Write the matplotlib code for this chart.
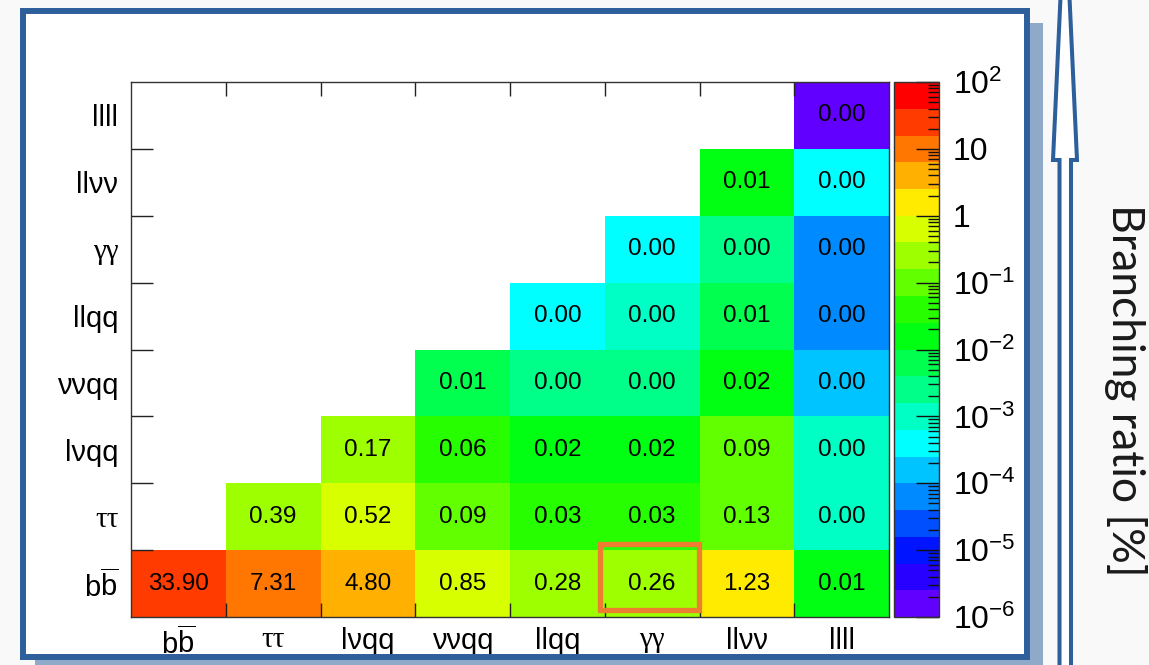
import numpy as np
import matplotlib
matplotlib.use('Agg')
import matplotlib.pyplot as plt
from matplotlib.colors import ListedColormap, LogNorm, hsv_to_rgb
from matplotlib.patches import Rectangle, Polygon
from matplotlib.ticker import FixedLocator, NullFormatter, FuncFormatter

plt.rcParams['font.family'] = ['Liberation Sans', 'DejaVu Sans']
plt.rcParams['mathtext.fontset'] = 'custom'
plt.rcParams['mathtext.rm'] = 'Liberation Sans'
plt.rcParams['mathtext.it'] = 'Liberation Sans:italic'
plt.rcParams['mathtext.bf'] = 'Liberation Sans:bold'

# decay channels, bottom -> top on y, left -> right on x
channels = [r'$\mathrm{b\overline{b}}$', 'ττ', 'lνqq', 'ννqq', 'llqq', 'γγ', 'llνν', 'llll']

# branching ratios [%] per row (first channel), columns = second channel
nan = np.nan
br_bb   = [33.90, 7.31, 4.80, 0.85, 0.28, 0.26, 1.23, 0.012]
br_tt   = [nan, 0.39, 0.52, 0.09, 0.03, 0.03, 0.13, 0.0011]
br_lvqq = [nan, nan, 0.17, 0.06, 0.02, 0.02, 0.09, 0.0011]
br_vvqq = [nan, nan, nan, 0.008, 0.003, 0.003, 0.018, 0.00018]
br_llqq = [nan, nan, nan, nan, 0.0004, 0.0011, 0.008, 0.00006]
br_aa   = [nan, nan, nan, nan, nan, 0.0004, 0.003, 0.00006]
br_llvv = [nan, nan, nan, nan, nan, nan, 0.012, 0.0004]
br_llll = [nan, nan, nan, nan, nan, nan, nan, 0.0000015]

highlight = (0, 5)  # (row, col) of the boxed cell

W, H = 1149, 665
BLUE = '#2D5F9B'

def fx(x):
    return x / W

def fy(y):
    return 1 - y / H

# ROOT-like rainbow palette, 20 contour levels
n_lev = 20
hues = np.linspace(263, 0, n_lev) / 360.0
pal = hsv_to_rgb(np.column_stack([hues, np.ones(n_lev), np.ones(n_lev)]))
cmap = ListedColormap(pal)
norm = LogNorm(1e-6, 1e2)

Z = np.array([br_bb, br_tt, br_lvqq, br_vvqq, br_llqq, br_aa, br_llvv, br_llll])
n = len(channels)

fig = plt.figure(figsize=(W / 100, H / 100), dpi=100, facecolor='#F9F9F9')

# slide frame: shadow, white card
fig.add_artist(Rectangle((fx(35), fy(672)), fx(1043) - fx(35), fy(23) - fy(672),
                         transform=fig.transFigure, facecolor='#8FAAC8',
                         edgecolor='none', zorder=-3))
fig.add_artist(Rectangle((fx(20), fy(660)), fx(1030) - fx(20), fy(8) - fy(660),
                         transform=fig.transFigure, facecolor='white',
                         edgecolor='none', zorder=-2))

ax = fig.add_axes([fx(131), fy(617), fx(889) - fx(131), fy(82) - fy(617)])
mesh = ax.pcolormesh(np.arange(n + 1), np.arange(n + 1), np.ma.masked_invalid(Z),
                     cmap=cmap, norm=norm)
for r in range(n):
    for c in range(n):
        if not np.isnan(Z[r, c]):
            ax.text(c + 0.5, r + 0.5, f'{Z[r, c]:.2f}', ha='center', va='center',
                    fontsize=17.5, color='black')

ax.set_xlim(0, n)
ax.set_ylim(0, n)
ax.set_xticks(np.arange(n) + 0.5)
ax.set_yticks(np.arange(n) + 0.5)
ax.set_xticklabels(channels, fontsize=21)
ax.set_yticklabels(channels, fontsize=21)
ax.tick_params(axis='both', which='major', length=0)
ax.tick_params(axis='x', which='major', pad=7)
ax.tick_params(axis='y', which='major', pad=9)
for lab in ax.get_xticklabels() + ax.get_yticklabels():
    if lab.get_text() in ('ττ', 'γγ'):
        lab.set_family(['Liberation Serif', 'DejaVu Serif'])
ax.xaxis.set_minor_locator(FixedLocator(np.arange(1, n)))
ax.yaxis.set_minor_locator(FixedLocator(np.arange(1, n)))
ax.tick_params(axis='x', which='minor', direction='in', length=10, width=1,
               top=True, bottom=True, color='#222222')
ax.tick_params(axis='y', which='minor', direction='in', length=16, width=1,
               left=True, right=False, color='#222222')
for sp in ax.spines.values():
    sp.set_color('#333333')
    sp.set_linewidth(1.0)
    sp.set_zorder(4)

# box around the highlighted cell
hr, hc = highlight
ax.add_patch(Rectangle((hc - 0.045, hr + 0.1), 1.035, 0.985, fill=False,
                       edgecolor='#ED7D31', linewidth=3.8, zorder=5, clip_on=False))

# colour scale
cax = fig.add_axes([fx(894), fy(617), fx(939) - fx(894), fy(82) - fy(617)])
cb = fig.colorbar(mesh, cax=cax)
cb.outline.set_edgecolor('#333333')
cb.outline.set_linewidth(1.0)
decades = np.arange(-6, 3)
cax.yaxis.set_major_locator(FixedLocator(10.0 ** decades))
minor = [m * 10.0 ** e for e in decades[:-1] for m in range(2, 10)]
cax.yaxis.set_minor_locator(FixedLocator(minor))
cax.yaxis.set_minor_formatter(NullFormatter())


def cb_label(v, pos):
    e = int(round(np.log10(v)))
    if e == 0:
        return '1'
    if e == 1:
        return '10'
    return r'$10^{%d}$' % e


cax.yaxis.set_major_formatter(FuncFormatter(cb_label))
cax.tick_params(axis='y', which='major', direction='in', length=16.5, width=1,
                labelsize=23, pad=10, color='#111111')
cax.tick_params(axis='y', which='minor', direction='in', length=8, width=1,
                color='#111111')

# frame border drawn on top
fig.add_artist(Rectangle((fx(23), fy(657)), fx(1027) - fx(23), fy(11) - fy(657),
                         transform=fig.transFigure, fill=False, edgecolor=BLUE,
                         linewidth=4.3, zorder=6))

# up arrow on the right
arrow_px = [(1059.5, 680), (1059.5, 160), (1053, 160), (1065, -100),
            (1077, 160), (1071, 160), (1071, 680)]
fig.add_artist(Polygon([(fx(x), fy(y)) for x, y in arrow_px], closed=True,
                       transform=fig.transFigure, facecolor='white',
                       edgecolor=BLUE, linewidth=2.9, joinstyle='miter',
                       zorder=6))

fig.text(fx(1125), fy(390), 'Branching ratio [%]', rotation=-90, ha='center',
         va='center', fontsize=32, family=['Lato', 'DejaVu Sans'], color='#1a1a1a')

fig.savefig('out.png', dpi=100, facecolor=fig.get_facecolor())
